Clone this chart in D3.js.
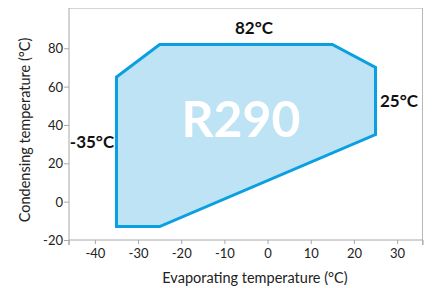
<!DOCTYPE html>
<html><head><meta charset="utf-8">
<script src="https://cdn.jsdelivr.net/npm/d3@7"></script>
<style>body{margin:0;background:#fff}svg{display:block}</style>
</head><body>
<script>
// Envelope polygon vertices: evaporating temp (x), condensing temp (y)
const evap = [-35, -35, -25, 15, 25, 25, -25];
const cond = [-13, 65, 82, 82, 70, 35, -13];
const xTicks = [-40, -30, -20, -10, 0, 10, 20, 30];
const yTicks = [-20, 0, 20, 40, 60, 80];
const labels = ["82°C", "25°C", "-35°C"];
const refrigerant = "R290";

const W = 434, H = 288;
const m = {l: 69, t: 8, r: 11, b: 48};
const svg = d3.select("body").append("svg").attr("width", W).attr("height", H);
const x = d3.scaleLinear().domain([-46, 36]).range([m.l, W - m.r]);
const y = d3.scaleLinear().domain([-20, 101]).range([H - m.b, m.t]);
const font = "Lato, 'Open Sans', sans-serif";

// frame
svg.append("line").attr("x1", x.range()[0]).attr("x2", x.range()[1]).attr("y1", m.t + 0.5).attr("y2", m.t + 0.5).attr("stroke", "#d4d4d4");
svg.append("line").attr("x1", x.range()[1] - 0.5).attr("x2", x.range()[1] - 0.5).attr("y1", m.t).attr("y2", H - m.b + 5).attr("stroke", "#b8b8b8");

// axes
const fmt = d => String(d);
const xAxis = svg.append("g").attr("transform", `translate(0,${H - m.b})`)
  .call(d3.axisBottom(x).tickValues(xTicks).tickSize(4).tickPadding(5).tickFormat(fmt));
const yAxis = svg.append("g").attr("transform", `translate(${m.l},0)`)
  .call(d3.axisLeft(y).tickValues(yTicks).tickSize(5).tickPadding(3).tickFormat(fmt));
[xAxis, yAxis].forEach(g => {
  g.select(".domain").attr("stroke", "#a8a8a8");
  g.selectAll(".tick line").attr("stroke", "#a8a8a8");
  g.selectAll("text").attr("font-family", font).attr("font-size", 13).attr("fill", "#222");
});
xAxis.select(".domain").attr("d", `M${x.range()[0]},5V0H${x.range()[1]}V5`);
yAxis.select(".domain").attr("d", `M0,${y.range()[1]}V${y.range()[0] + 5}`);
yAxis.selectAll("text").attr("text-anchor", "end").attr("dy", "0.35em").attr("x", -6);

// envelope
const pts = evap.map((e, i) => [x(e), y(cond[i])]);
svg.append("path").attr("d", d3.line()(pts) + "Z")
  .attr("fill", "#bde3f5").attr("stroke", "#0a9fe0").attr("stroke-width", 3).attr("stroke-linejoin", "miter");

// labels
const lab = svg.append("g").attr("font-family", font).attr("font-weight", "bold").attr("font-size", 17)
  .attr("text-anchor", "middle").attr("fill", "#111");
lab.append("text").attr("x", 254).attr("y", 34).text(labels[0]);
lab.append("text").attr("x", 399).attr("y", 107).text(labels[1]);
lab.append("text").attr("x", 92).attr("y", 148).text(labels[2]);

svg.append("text").attr("x", 241).attr("y", 137).attr("text-anchor", "middle")
  .attr("font-family", font).attr("font-weight", "bold").attr("font-size", 50).attr("fill", "#fff").text(refrigerant);

// axis titles
svg.append("text").attr("x", 255).attr("y", 283).attr("text-anchor", "middle")
  .attr("font-family", font).attr("font-size", 14.5).attr("fill", "#222").text("Evaporating temperature (°C)");
svg.append("text").attr("transform", "translate(30,130) rotate(-90)").attr("text-anchor", "middle")
  .attr("font-family", font).attr("font-size", 14.5).attr("fill", "#222").text("Condensing temperature (°C)");
</script>
</body></html>
